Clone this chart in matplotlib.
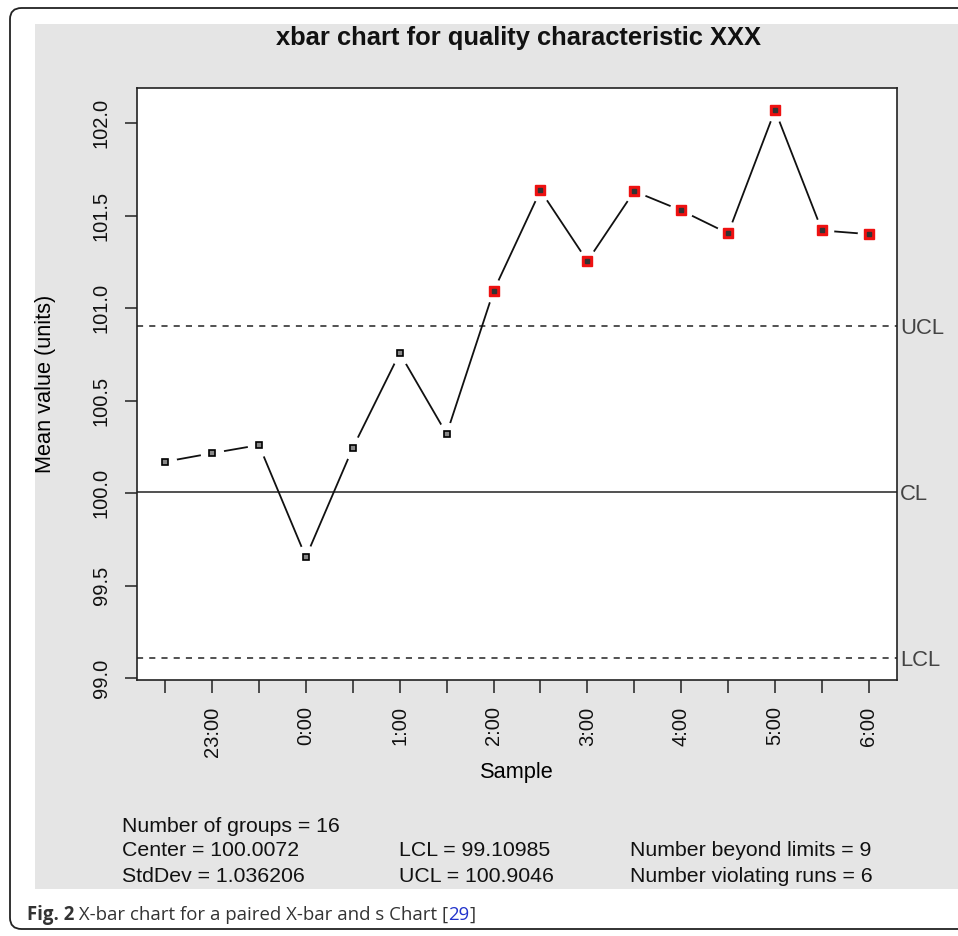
import matplotlib
matplotlib.use("Agg")
import matplotlib.pyplot as plt
from matplotlib.patches import FancyBboxPatch, Rectangle

# data
sample_idx = list(range(1, 17))
tick_labels = ["", "23:00", "", "0:00", "", "1:00", "", "2:00",
               "", "3:00", "", "4:00", "", "5:00", "", "6:00"]
means = [100.17, 100.216, 100.26, 99.654, 100.245, 100.757, 100.32, 101.092,
         101.636, 101.254, 101.632, 101.528, 101.404, 102.07, 101.42, 101.40]
center = 100.0072
lcl = 99.10985
ucl = 100.9046
stats_rows = [
    ["Number of groups = 16", "", ""],
    ["Center = 100.0072", "LCL = 99.10985", "Number beyond limits = 9"],
    ["StdDev = 1.036206", "UCL = 100.9046", "Number violating runs = 6"],
]

W, H = 958, 936
plt.rcParams['font.family'] = ['Liberation Sans', 'DejaVu Sans']
fig = plt.figure(figsize=(W / 100, H / 100), dpi=100)
fig.patch.set_facecolor('white')

def px(x, y):
    return x / W, 1 - y / H

# outer rounded frame and grey panel
frame = FancyBboxPatch(px(10, 929), 980 / W, 921 / H,
                       boxstyle="round,pad=0,rounding_size=0.012",
                       transform=fig.transFigure, fc='white', ec='#222222', lw=1.3, zorder=-3)
fig.patches.append(frame)
panel = Rectangle(px(35, 889), (W - 35) / W, (889 - 24) / H,
                  transform=fig.transFigure, fc='#e5e5e5', ec='none', zorder=-2)
fig.patches.append(panel)

left, right, top, bottom = 137, 897, 88, 680
ax = fig.add_axes([left / W, 1 - bottom / H, (right - left) / W, (bottom - top) / H])
ax.set_facecolor('white')

ax.axhline(center, color='#222222', lw=1.1, zorder=1)
ax.axhline(ucl, color='#222222', lw=1.1, ls=(0, (4, 4)), zorder=1)
ax.axhline(lcl, color='#222222', lw=1.1, ls=(0, (4, 4)), zorder=1)

ax.plot(sample_idx, means, color='#111111', lw=1.3, zorder=2)
# white halo so the line stops short of the points, like R's type="b"
ax.plot(sample_idx, means, ls='none', marker='o', ms=17, mfc='white', mec='none', zorder=3)

out = [i for i, v in enumerate(means) if v > ucl or v < lcl]
inn = [i for i in range(len(means)) if i not in out]
ax.plot([sample_idx[i] for i in inn], [means[i] for i in inn], ls='none', marker='s',
        ms=4.5, mfc='#888888', mec='black', mew=1.2, zorder=4)
ax.plot([sample_idx[i] for i in out], [means[i] for i in out], ls='none', marker='s',
        ms=7, mfc='#ee1111', mec='#ee1111', zorder=4)
ax.plot([sample_idx[i] for i in out], [means[i] for i in out], ls='none', marker='s',
        ms=2.5, mfc='#333333', mec='#333333', zorder=5)

ax.set_xlim(0.4, 16.6)
ax.set_ylim(98.99, 102.19)
ax.set_xticks(sample_idx)
ax.set_xticklabels(tick_labels, rotation=90)
ax.set_yticks([99.0, 99.5, 100.0, 100.5, 101.0, 101.5, 102.0])
ax.set_yticklabels(["99.0", "99.5", "100.0", "100.5", "101.0", "101.5", "102.0"],
                   rotation=90, va='center')
ax.tick_params(axis='both', direction='out', length=9, width=1.1, color='#222222',
               labelsize=14.5, labelcolor='#111111', pad=10)
for s in ax.spines.values():
    s.set_color('#222222')
    s.set_linewidth(1.2)

ax.set_xlabel("Sample", fontsize=15.7)
ax.xaxis.set_label_coords(0.5, (bottom - 762) / (bottom - top))
ax.set_ylabel("Mean value (units)", fontsize=15.7)
ax.yaxis.label.set_va('center')
ax.yaxis.set_label_coords((46 - left) / (right - left), 0.5)

fig.text(*px(518, 45), "xbar chart for quality characteristic XXX", fontsize=18.4,
         fontweight='bold', ha='center', va='baseline', color='#111111')

for val, name in [(ucl, "UCL"), (center, "CL"), (lcl, "LCL")]:
    ax.text(1.004, val, name, transform=ax.get_yaxis_transform(), fontsize=15.8,
            color='#444444', va='center_baseline', ha='left')

cols = [122, 399, 630]
rows_y = [826, 851, 876]
for r, row in enumerate(stats_rows):
    for c, txt in enumerate(row):
        if txt:
            fig.text(*px(cols[c], rows_y[r]), txt, fontsize=15.3, va='center', ha='left',
                     color='#111111')

# caption
renderer = fig.canvas.get_renderer()
x0 = 27
parts = [("Fig. 2", 'bold', '#333333'), (" X-bar chart for a paired X-bar and s Chart [", 'normal', '#333333'),
         ("29", 'normal', '#2233cc'), ("]", 'normal', '#333333')]
for txt, wt, col in parts:
    t = fig.text(*px(x0, 915), txt, fontsize=13.4, fontweight=wt, color=col, va='center', ha='left',
                 family='Open Sans')
    x0 = t.get_window_extent(renderer).x1

fig.savefig("out.png", dpi=100)
